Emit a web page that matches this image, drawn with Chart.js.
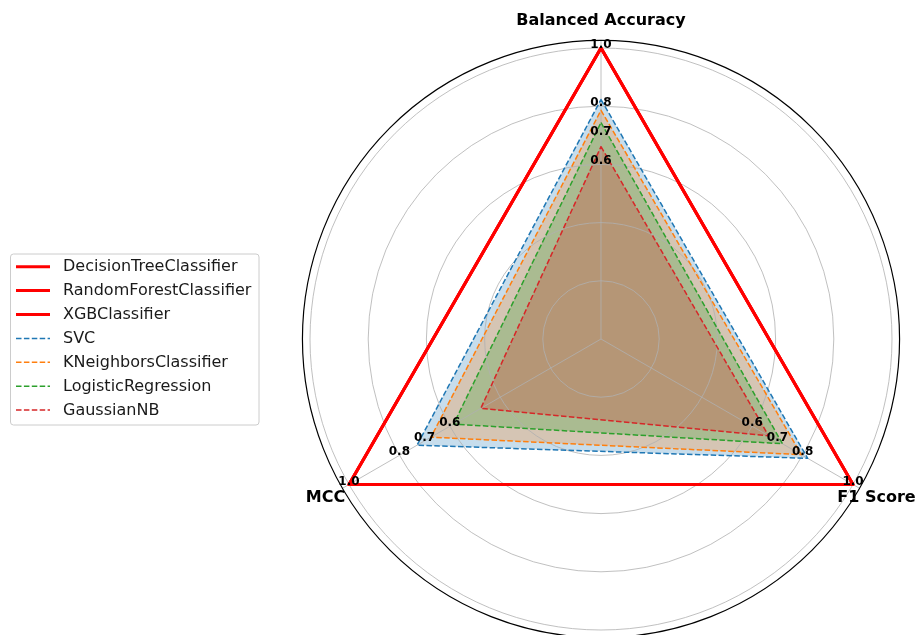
<!DOCTYPE html>
<html>
<head>
<meta charset="utf-8">
<script src="https://cdn.jsdelivr.net/npm/chart.js@4.4.0/dist/chart.umd.min.js"></script>
<style>
  html, body { margin: 0; padding: 0; background: #ffffff; }
  #wrap { width: 917px; height: 635px; }
</style>
</head>
<body>
<div id="wrap"><canvas id="radar" width="917" height="635"></canvas></div>
<script>
// Metrics on the three spokes (clockwise from the top)
const metrics = ['Balanced Accuracy', 'F1 Score', 'MCC'];

// Model names, legend order
const models = ['DecisionTreeClassifier', 'RandomForestClassifier', 'XGBClassifier',
                'SVC', 'KNeighborsClassifier', 'LogisticRegression', 'GaussianNB'];

// Scores per model, in metric order: Balanced Accuracy, F1 Score, MCC
const decisionTreeScores = [1.0, 1.0, 1.0];
const randomForestScores = [1.0, 1.0, 1.0];
const xgbScores          = [1.0, 1.0, 1.0];
const svcScores          = [0.823, 0.820, 0.730];
const kNeighborsScores   = [0.786, 0.795, 0.675];
const logisticScores     = [0.744, 0.720, 0.585];
const gaussianNBScores   = [0.661, 0.665, 0.477];

// Reference values annotated along every spoke
const spokeMarks = [0.6, 0.7, 0.8, 1.0];

const scoreLists = [decisionTreeScores, randomForestScores, xgbScores,
                    svcScores, kNeighborsScores, logisticScores, gaussianNBScores];

// Styling
const lineColors = ['#ff0000', '#ff0000', '#ff0000', '#1f77b4', '#ff7f0e', '#2ca02c', '#d62728'];
const fillColors = [null, null, null,
  'rgba(31,119,180,0.25)', 'rgba(255,127,14,0.25)', 'rgba(44,160,44,0.25)', 'rgba(214,39,40,0.25)'];

const datasets = models.map((name, i) => {
  const solid = fillColors[i] === null;
  return {
    label: name,
    data: scoreLists[i],
    // later models are painted over earlier ones
    order: models.length - i,
    borderColor: lineColors[i],
    backgroundColor: solid ? 'rgba(0,0,0,0)' : fillColors[i],
    fill: solid ? false : 'origin',
    borderWidth: solid ? 3 : 1.5,
    borderDash: solid ? [] : [5.5, 2.4],
    borderJoinStyle: 'round',
    pointRadius: 0,
    pointHoverRadius: 0,
    tension: 0
  };
});

const OUTER = 1.026;     // outer frame of the polar area
const TITLE_AT = 1.093;  // where the metric names sit

// Outer frame ring and spokes reaching it
const frame = {
  id: 'frame',
  beforeDatasetsDraw(chart) {
    const r = chart.scales.r;
    const ctx = chart.ctx;
    ctx.save();
    ctx.strokeStyle = '#b0b0b0';
    ctx.lineWidth = 0.8;
    metrics.forEach((m, i) => {
      const a = r.getPointPositionForValue(i, 1.0);
      const b = r.getPointPositionForValue(i, OUTER);
      ctx.beginPath(); ctx.moveTo(a.x, a.y); ctx.lineTo(b.x, b.y); ctx.stroke();
    });
    ctx.strokeStyle = '#000000';
    ctx.lineWidth = 1.2;
    ctx.beginPath();
    ctx.arc(r.xCenter, r.yCenter, r.getDistanceFromCenterForValue(OUTER), 0, Math.PI * 2);
    ctx.stroke();
    ctx.restore();
  }
};

// Value marks along each spoke and the metric names
const annotations = {
  id: 'annotations',
  afterDatasetsDraw(chart) {
    const r = chart.scales.r;
    const ctx = chart.ctx;
    ctx.save();
    ctx.fillStyle = '#000000';
    ctx.textAlign = 'center';
    ctx.textBaseline = 'alphabetic';
    ctx.font = 'bold 12px "DejaVu Sans"';
    metrics.forEach((m, i) => {
      spokeMarks.forEach(v => {
        const p = r.getPointPositionForValue(i, v);
        ctx.fillText(v.toFixed(1), p.x, p.y);
      });
    });
    ctx.font = 'bold 16px "DejaVu Sans"';
    ctx.textBaseline = 'middle';
    metrics.forEach((m, i) => {
      const p = r.getPointPositionForValue(i, TITLE_AT);
      ctx.fillText(m, p.x, p.y);
    });
    ctx.restore();
  }
};

// Framed legend on the left
const sideLegend = {
  id: 'sideLegend',
  afterDraw(chart) {
    const ctx = chart.ctx;
    const ds = chart.data.datasets;
    const box = { x: 10.5, y: 254, w: 248.5, h: 171 };
    const rowH = 23.9, firstRow = 266.7;
    ctx.save();
    ctx.fillStyle = 'rgba(255,255,255,0.8)';
    ctx.strokeStyle = '#cccccc';
    ctx.lineWidth = 1;
    ctx.beginPath();
    ctx.roundRect(box.x, box.y, box.w, box.h, 3);
    ctx.fill();
    ctx.stroke();
    ctx.font = '16px "DejaVu Sans"';
    ctx.textAlign = 'left';
    ctx.textBaseline = 'middle';
    ds.forEach((d, i) => {
      const y = firstRow + i * rowH;
      ctx.strokeStyle = d.borderColor;
      ctx.lineWidth = d.borderWidth;
      ctx.setLineDash(d.borderDash);
      ctx.beginPath();
      ctx.moveTo(16, y);
      ctx.lineTo(50, y);
      ctx.stroke();
      ctx.setLineDash([]);
      ctx.fillStyle = '#1a1a1a';
      ctx.fillText(d.label, 63, y + 0.5);
    });
    ctx.restore();
  }
};

new Chart(document.getElementById('radar'), {
  type: 'radar',
  data: { labels: metrics, datasets: datasets },
  options: {
    responsive: false,
    animation: false,
    layout: { padding: { left: 310, top: 48, right: 25, bottom: 5 } },
    plugins: {
      legend: { display: false },
      tooltip: { enabled: false },
      // area fills go underneath the grid, outlines above it
      filler: { drawTime: 'beforeDraw' }
    },
    scales: {
      r: {
        min: 0,
        max: 1,
        ticks: { display: false, stepSize: 0.2 },
        grid: { color: '#b0b0b0', lineWidth: 0.8, circular: true },
        angleLines: { color: '#b0b0b0', lineWidth: 0.8 },
        pointLabels: { display: false }
      }
    }
  },
  plugins: [frame, annotations, sideLegend]
});
</script>
</body>
</html>
